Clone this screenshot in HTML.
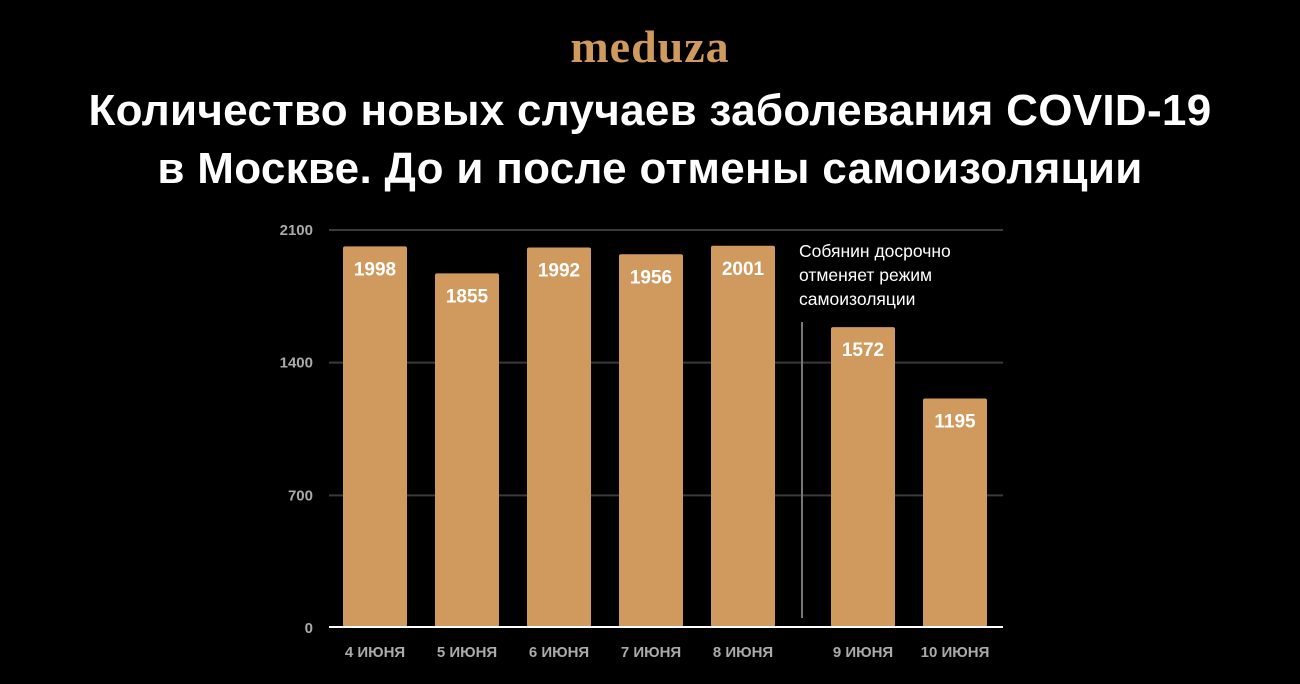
<!DOCTYPE html>
<html><head><meta charset="utf-8"><style>
body{margin:0;background:#000;width:1300px;height:684px;overflow:hidden;font-family:"Liberation Sans",sans-serif}
#logo{position:absolute;left:0;width:1300px;top:22px;text-align:center;color:#d09a5e;font-family:"Liberation Serif",serif;font-weight:bold;font-size:46px;letter-spacing:1px;line-height:50px}
#title{position:absolute;left:0;width:1300px;top:82px;text-align:center;color:#fff;font-weight:bold;font-size:44px;line-height:58px;letter-spacing:0.3px}
svg{position:absolute;left:0;top:0}
</style></head><body>
<div id="logo">meduza</div>
<div id="title">Количество новых случаев заболевания COVID-19<br>в Москве. До и после отмены самоизоляции</div>
<svg id="chart" width="1300" height="684"></svg>
<script>
const categories=["4 июня","5 июня","6 июня","7 июня","8 июня","9 июня","10 июня"];
const values=[1998,1855,1992,1956,2001,1572,1195];
const ticks=[0,700,1400,2100];
const NS="http://www.w3.org/2000/svg";
const svg=document.getElementById('chart');
const y0=627,yTop=229,maxV=2100;
function y(v){return y0-(v/maxV)*(y0-yTop);}
function x(i){return 343+i*92+(i>=5?28:0);}
const bw=64;
function mk(t,a,txt){const e=document.createElementNS(NS,t);for(const k in a)e.setAttribute(k,a[k]);if(txt!==undefined)e.textContent=txt;svg.appendChild(e);return e;}
ticks.forEach(t=>{
  if(t>0){const g=mk('line',{x1:329,x2:1003,y1:y(t)+1,y2:y(t)+1,stroke:'#3a3a3a','stroke-width':2});
  
  }
  const l=mk('text',{x:313,y:y(t)+6,'text-anchor':'end',fill:'#aaa','font-size':15,'font-weight':'bold'},String(t));
  
  
});
values.forEach((v,i)=>{
  const r=mk('rect',{x:x(i),y:y(v)-2,width:bw,height:y0-y(v)+2,fill:'#d09a5e',rx:2});
  
  
  const t=mk('text',{x:x(i)+bw/2,y:y(v)+27,'text-anchor':'middle',fill:'#fff','font-size':19,'font-weight':'bold'},String(v));
  
  
  const c=mk('text',{x:x(i)+bw/2,y:657,'text-anchor':'middle',fill:'#aaa','font-size':15,'font-weight':'bold'},categories[i].toUpperCase());
  
  
});
const b=mk('line',{x1:329,x2:1003,y1:y0,y2:y0,stroke:'#fff','stroke-width':2});


const d=mk('line',{x1:802,x2:802,y1:322,y2:618,stroke:'#777','stroke-width':2});


["Собянин досрочно","отменяет режим","самоизоляции"].forEach((s,i)=>{
  const a=mk('text',{x:799,y:257+i*24,fill:'#fff','font-size':17.5},s);
  
  
});
</script>
</body></html>
